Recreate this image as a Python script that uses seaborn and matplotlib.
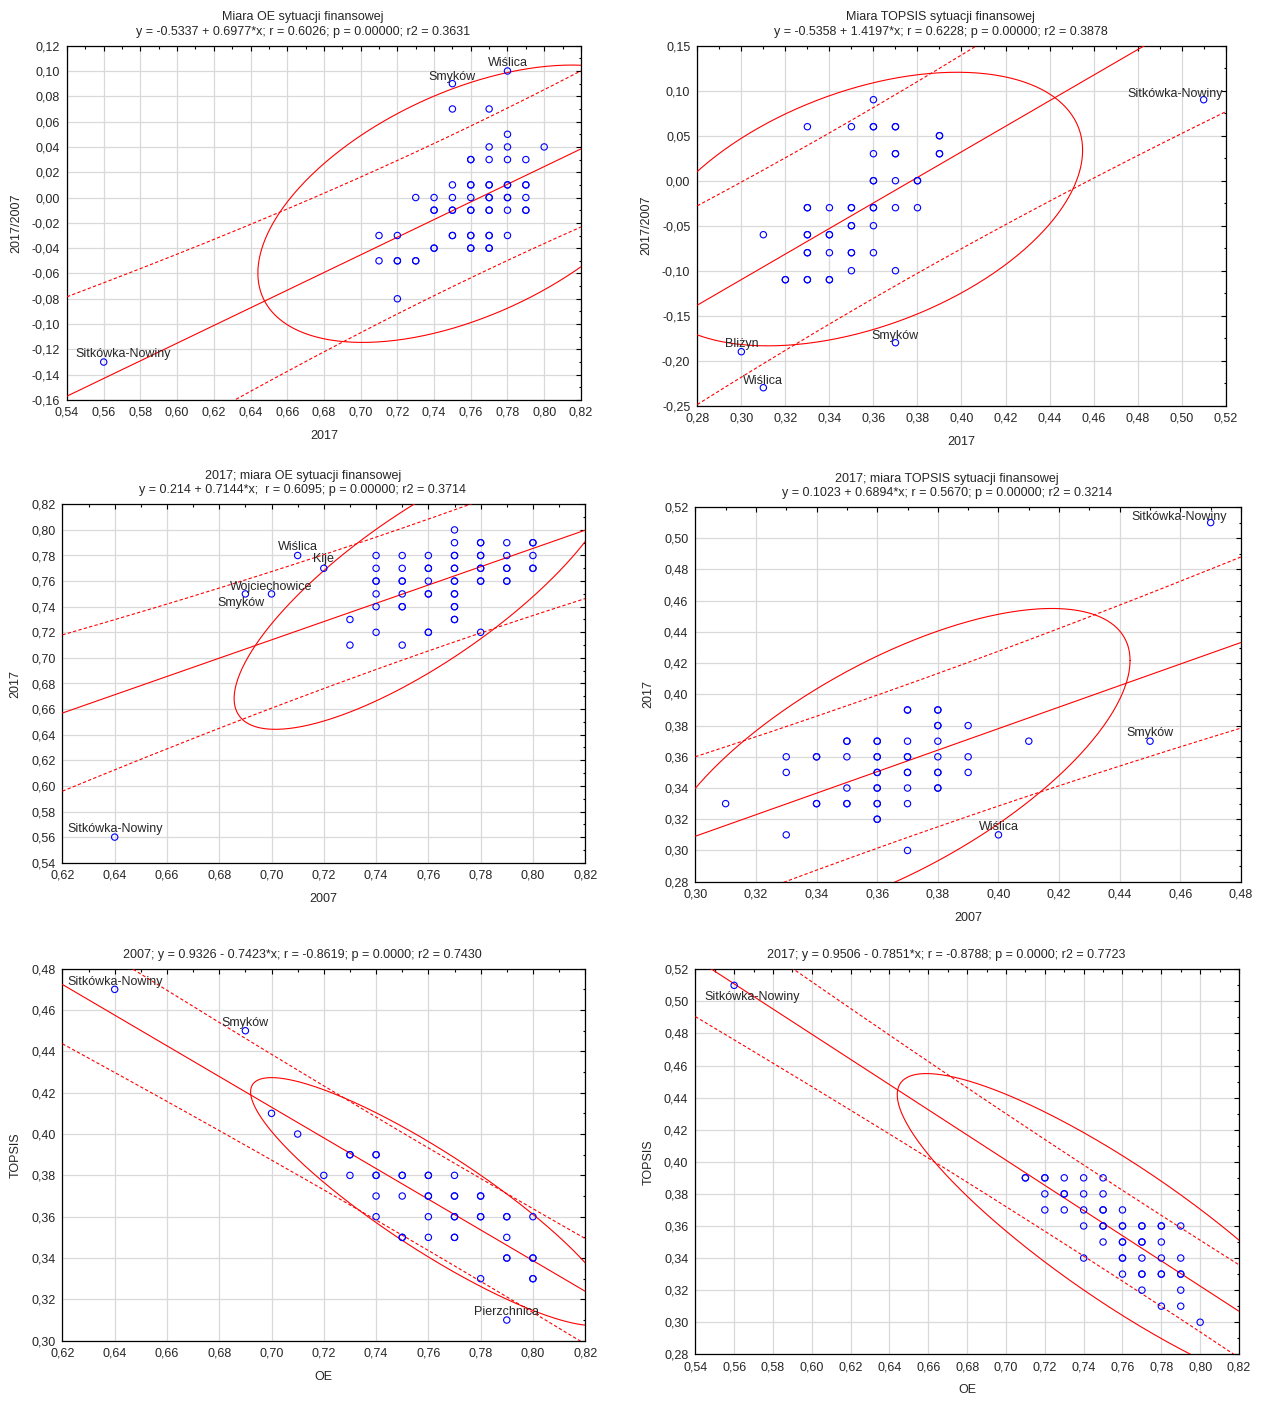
import numpy as np
import pandas as pd
import matplotlib
matplotlib.use("Agg")
import matplotlib.pyplot as plt
import seaborn as sns
from matplotlib.ticker import FixedLocator, AutoMinorLocator, FuncFormatter

# %%
""" Data read off the six scatter plots (repeated values = overlapping points) """

# panel 1: OE 2017 vs change 2017/2007
p1_levels = [0.10, 0.09, 0.07, 0.05, 0.04, 0.03, 0.01, 0.00, -0.01, -0.03, -0.04, -0.05, -0.08, -0.13]
p1_xs = [
    [0.78],
    [0.75],
    [0.75, 0.77],
    [0.78],
    [0.77, 0.78, 0.80],
    [0.76, 0.76, 0.77, 0.78, 0.79],
    [0.75, 0.76, 0.76, 0.77, 0.77, 0.78, 0.78, 0.79, 0.79],
    [0.73, 0.74, 0.75, 0.76, 0.77, 0.77, 0.78, 0.78, 0.79],
    [0.74, 0.74, 0.75, 0.75, 0.76, 0.76, 0.77, 0.77, 0.78, 0.79, 0.79],
    [0.71, 0.72, 0.75, 0.75, 0.76, 0.76, 0.77, 0.77, 0.78],
    [0.74, 0.74, 0.76, 0.76, 0.77, 0.77],
    [0.71, 0.72, 0.72, 0.73, 0.73],
    [0.72],
    [0.56],
]

# panel 2: TOPSIS 2017 vs change 2017/2007
p2_levels = [0.09, 0.06, 0.05, 0.03, 0.00, -0.03, -0.05, -0.06, -0.08, -0.10, -0.11, -0.18, -0.19, -0.23]
p2_xs = [
    [0.36, 0.51],
    [0.33, 0.35, 0.36, 0.36, 0.37, 0.37],
    [0.39, 0.39],
    [0.36, 0.37, 0.37, 0.39, 0.39],
    [0.36, 0.36, 0.37, 0.38, 0.38],
    [0.33, 0.33, 0.34, 0.35, 0.35, 0.36, 0.36, 0.37, 0.38],
    [0.35, 0.35, 0.36],
    [0.31, 0.33, 0.33, 0.34, 0.34],
    [0.33, 0.33, 0.34, 0.35, 0.35, 0.36],
    [0.35, 0.37],
    [0.32, 0.32, 0.33, 0.33, 0.34, 0.34],
    [0.37],
    [0.30],
    [0.31],
]

# panel 3: OE 2007 vs 2017
p3_levels = [0.80, 0.79, 0.78, 0.77, 0.76, 0.75, 0.74, 0.73, 0.72, 0.71, 0.56]
p3_xs = [
    [0.77],
    [0.77, 0.78, 0.78, 0.79, 0.80, 0.80],
    [0.71, 0.74, 0.75, 0.76, 0.77, 0.77, 0.78, 0.78, 0.79, 0.80],
    [0.72, 0.74, 0.75, 0.76, 0.76, 0.77, 0.77, 0.78, 0.78, 0.79, 0.79, 0.80, 0.80],
    [0.74, 0.74, 0.75, 0.75, 0.76, 0.77, 0.77, 0.78, 0.78, 0.79, 0.79],
    [0.69, 0.70, 0.74, 0.75, 0.76, 0.76, 0.77, 0.77],
    [0.74, 0.75, 0.75, 0.77, 0.77],
    [0.73, 0.77, 0.77],
    [0.74, 0.76, 0.76, 0.78],
    [0.73, 0.75],
    [0.64],
]

# panel 4: TOPSIS 2007 vs 2017
p4_levels = [0.51, 0.39, 0.38, 0.37, 0.36, 0.35, 0.34, 0.33, 0.32, 0.31, 0.30]
p4_xs = [
    [0.47],
    [0.37, 0.37, 0.38, 0.38],
    [0.38, 0.38, 0.39],
    [0.35, 0.35, 0.36, 0.36, 0.37, 0.38, 0.41, 0.45],
    [0.33, 0.34, 0.34, 0.35, 0.36, 0.36, 0.37, 0.37, 0.38, 0.39],
    [0.33, 0.36, 0.36, 0.37, 0.37, 0.38, 0.38, 0.39],
    [0.35, 0.36, 0.36, 0.37, 0.38, 0.38],
    [0.31, 0.34, 0.34, 0.35, 0.35, 0.36, 0.36, 0.37],
    [0.36, 0.36],
    [0.33, 0.40],
    [0.37],
]

# panel 5: OE vs TOPSIS, 2007
p5_levels = [0.47, 0.45, 0.41, 0.40, 0.39, 0.38, 0.37, 0.36, 0.35, 0.34, 0.33, 0.31]
p5_xs = [
    [0.64],
    [0.69],
    [0.70],
    [0.71],
    [0.73, 0.73, 0.74, 0.74],
    [0.72, 0.73, 0.74, 0.74, 0.75, 0.75, 0.76, 0.76, 0.77],
    [0.74, 0.75, 0.76, 0.76, 0.77, 0.77, 0.78, 0.78],
    [0.74, 0.76, 0.77, 0.77, 0.78, 0.78, 0.79, 0.79, 0.80],
    [0.75, 0.75, 0.76, 0.77, 0.77, 0.79],
    [0.79, 0.79, 0.80, 0.80],
    [0.78, 0.80, 0.80],
    [0.79],
]

# panel 6: OE vs TOPSIS, 2017
p6_levels = [0.51, 0.39, 0.38, 0.37, 0.36, 0.35, 0.34, 0.33, 0.32, 0.31, 0.30]
p6_xs = [
    [0.56],
    [0.71, 0.71, 0.72, 0.72, 0.73, 0.74, 0.75],
    [0.72, 0.73, 0.73, 0.74, 0.75],
    [0.72, 0.73, 0.74, 0.75, 0.75, 0.76],
    [0.74, 0.75, 0.75, 0.76, 0.76, 0.77, 0.77, 0.78, 0.78, 0.79],
    [0.75, 0.76, 0.76, 0.77, 0.77, 0.78],
    [0.74, 0.76, 0.76, 0.77, 0.78, 0.79],
    [0.76, 0.77, 0.77, 0.78, 0.78, 0.79, 0.79],
    [0.77, 0.79],
    [0.78, 0.79],
    [0.80],
]

# labelled gminas
p1_names = ["Sitkówka-Nowiny", "Smyków", "Wiślica"]
p1_name_x = [0.56, 0.75, 0.78]
p1_name_y = [-0.13, 0.09, 0.10]
p2_names = ["Sitkówka-Nowiny", "Bliżyn", "Smyków", "Wiślica"]
p2_name_x = [0.51, 0.30, 0.37, 0.31]
p2_name_y = [0.09, -0.19, -0.18, -0.23]
p3_names = ["Sitkówka-Nowiny", "Wiślica", "Kije", "Wojciechowice", "Smyków"]
p3_name_x = [0.64, 0.71, 0.72, 0.70, 0.69]
p3_name_y = [0.56, 0.78, 0.77, 0.75, 0.75]
p4_names = ["Sitkówka-Nowiny", "Smyków", "Wiślica"]
p4_name_x = [0.47, 0.45, 0.40]
p4_name_y = [0.51, 0.37, 0.31]
p5_names = ["Sitkówka-Nowiny", "Smyków", "Pierzchnica"]
p5_name_x = [0.64, 0.69, 0.79]
p5_name_y = [0.47, 0.45, 0.31]
p6_names = ["Sitkówka-Nowiny"]
p6_name_x = [0.56]
p6_name_y = [0.51]

# regression y = a + b*x (from titles)
reg_intercept = [-0.5337, -0.5358, 0.214, 0.1023, 0.9326, 0.9506]
reg_slope = [0.6977, 1.4197, 0.7144, 0.6894, -0.7423, -0.7851]

# 95% prediction band: half width w0 at the mean, curvature u
band_w0 = [0.060, 0.106, 0.0515, 0.049, 0.0248, 0.0283]
band_u = [15, 15, 21, 19, 17, 13]

# prediction ellipse: centre, half extents, correlation
ell_cx = [0.758, 0.355, 0.759, 0.365, 0.7615, 0.760]
ell_cy = [-0.0049, -0.0315, 0.7562, 0.354, 0.3673, 0.354]
ell_a = [0.114, 0.100, 0.0733, 0.0784, 0.0695, 0.116]
ell_b = [0.1096, 0.152, 0.112, 0.101, 0.060, 0.101]
ell_rho = [0.50, 0.43, 0.785, 0.67, -0.885, -0.87]

titles = [
    "Miara OE sytuacji finansowej\ny = -0.5337 + 0.6977*x; r = 0.6026; p = 0.00000; r2 = 0.3631",
    "Miara TOPSIS sytuacji finansowej\ny = -0.5358 + 1.4197*x; r = 0.6228; p = 0.00000; r2 = 0.3878",
    "2017; miara OE sytuacji finansowej\ny = 0.214 + 0.7144*x;  r = 0.6095; p = 0.00000; r2 = 0.3714",
    "2017; miara TOPSIS sytuacji finansowej\ny = 0.1023 + 0.6894*x; r = 0.5670; p = 0.00000; r2 = 0.3214",
    "2007; y = 0.9326 - 0.7423*x; r = -0.8619; p = 0.0000; r2 = 0.7430",
    "2017; y = 0.9506 - 0.7851*x; r = -0.8788; p = 0.0000; r2 = 0.7723",
]
xlabels = ["2017", "2017", "2007", "2007", "OE", "OE"]
ylabels = ["2017/2007", "2017/2007", "2017", "2017", "TOPSIS", "TOPSIS"]

x_ranges = [(0.54, 0.82, 0.02), (0.28, 0.52, 0.02), (0.62, 0.82, 0.02),
            (0.30, 0.48, 0.02), (0.62, 0.82, 0.02), (0.54, 0.82, 0.02)]
y_ranges = [(-0.16, 0.12, 0.02), (-0.25, 0.15, 0.05), (0.54, 0.82, 0.02),
            (0.28, 0.52, 0.02), (0.30, 0.48, 0.02), (0.28, 0.52, 0.02)]

# %%
""" Layout (pixels of the 1262x1401 picture: left, top, right, bottom) """
W, H = 1262, 1401
rects = [(67.0, 45.7, 580.9, 400.0), (697.3, 45.7, 1225.7, 405.7),
         (62.4, 504.3, 585.2, 862.7), (695.3, 507.0, 1241.0, 881.7),
         (62.4, 968.7, 585.2, 1340.7), (695.3, 969.3, 1239.0, 1354.3)]
title_shift = -21  # titles sit a bit left of the plot centre
label_offsets = [
    [(19, 8), (0, 7), (0, 8)],
    [(-29, 6), (0, 8), (0, 7), (0, 7)],
    [(0, 8), (0, 8), (0, 9), (0, 7), (-4, -9)],
    [(-32, 6), (0, 8), (0, 8)],
    [(0, 7), (0, 8), (0, 8)],
    [(18, -12)],
]

panels = [
    (p1_levels, p1_xs, p1_names, p1_name_x, p1_name_y),
    (p2_levels, p2_xs, p2_names, p2_name_x, p2_name_y),
    (p3_levels, p3_xs, p3_names, p3_name_x, p3_name_y),
    (p4_levels, p4_xs, p4_names, p4_name_x, p4_name_y),
    (p5_levels, p5_xs, p5_names, p5_name_x, p5_name_y),
    (p6_levels, p6_xs, p6_names, p6_name_x, p6_name_y),
]

# %%
""" Plot """
sns.set_style("white")
plt.rcParams['font.family'] = ['Liberation Sans', 'DejaVu Sans']
plt.rcParams['font.size'] = 9

RED = "#ff0000"
BLUE = "#0000ff"
fmt = FuncFormatter(lambda v, p: f"{round(v, 4) + 0.0:.2f}".replace(".", ","))

fig = plt.figure(figsize=(W / 100, H / 100), dpi=100)

for i, (levels, xs, names, nx, ny) in enumerate(panels):
    l, t, r, b = rects[i]
    ax = fig.add_axes([l / W, 1 - b / H, (r - l) / W, (b - t) / H])

    df = pd.DataFrame({
        "x": [x for row in xs for x in row],
        "y": [lv for lv, row in zip(levels, xs) for _ in row],
    })

    x0, x1, dx = x_ranges[i]
    y0, y1, dy = y_ranges[i]
    xx = np.linspace(x0, x1, 300)

    # regression line and prediction band
    yfit = reg_intercept[i] + reg_slope[i] * xx
    half = band_w0[i] * np.sqrt(1 + band_u[i] * (xx - ell_cx[i]) ** 2)
    ax.plot(xx, yfit, color=RED, lw=0.8, zorder=3)
    ax.plot(xx, yfit + half, color=RED, lw=0.8, ls=(0, (3, 2)), zorder=3)
    ax.plot(xx, yfit - half, color=RED, lw=0.8, ls=(0, (3, 2)), zorder=3)

    # ellipse
    tt = np.linspace(0, 2 * np.pi, 400)
    rho = ell_rho[i]
    ex = ell_cx[i] + ell_a[i] * np.cos(tt)
    ey = ell_cy[i] + ell_b[i] * (rho * np.cos(tt) + np.sqrt(1 - rho ** 2) * np.sin(tt))
    ax.plot(ex, ey, color=RED, lw=0.8, zorder=3)

    sns.scatterplot(data=df, x="x", y="y", ax=ax, s=21, marker="o",
                    facecolor="none", edgecolor=BLUE, linewidth=0.8, zorder=4)

    for j, name in enumerate(names):
        ox, oy = label_offsets[i][j]
        ax.annotate(name, (nx[j], ny[j]), xytext=(ox, oy), textcoords="offset pixels",
                    ha="center", va="center", fontsize=9, zorder=5)

    ax.set_xlim(x0, x1)
    ax.set_ylim(y0, y1)
    ax.xaxis.set_major_locator(FixedLocator(np.round(np.arange(x0, x1 + dx / 2, dx), 2)))
    ax.yaxis.set_major_locator(FixedLocator(np.round(np.arange(y0, y1 + dy / 2, dy), 2)))
    ax.xaxis.set_minor_locator(AutoMinorLocator(2))
    ax.yaxis.set_minor_locator(AutoMinorLocator(2))
    ax.xaxis.set_major_formatter(fmt)
    ax.yaxis.set_major_formatter(fmt)
    ax.tick_params(which="both", direction="in", top=True, right=True, width=0.8,
                   labelsize=9, pad=5, color="black")
    ax.tick_params(which="major", length=3.5)
    ax.tick_params(which="minor", length=1.8)
    ax.grid(True, which="major", color="#d9d9d9", lw=0.9)
    ax.set_axisbelow(True)
    for sp in ax.spines.values():
        sp.set_color("black")
        sp.set_linewidth(0.9)

    ax.set_title(titles[i], fontsize=9, pad=8, linespacing=1.25,
                 x=0.5 + title_shift / (r - l))
    ax.set_xlabel(xlabels[i], fontsize=9, labelpad=8)
    ax.set_ylabel(ylabels[i], fontsize=9, labelpad=7)

plt.savefig("out.png", dpi=100)
